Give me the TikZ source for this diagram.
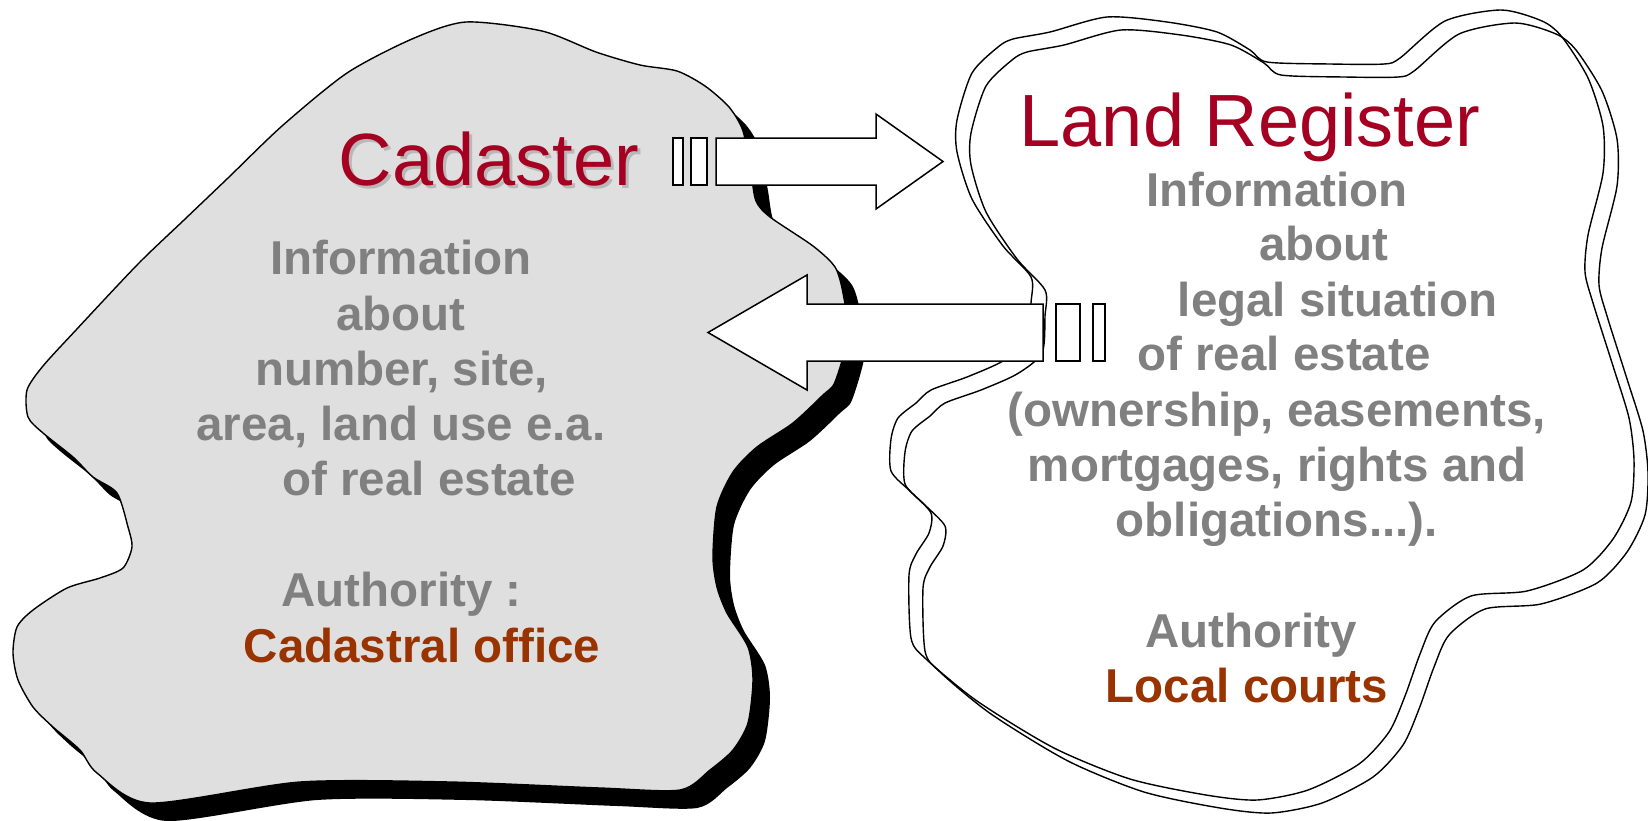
\documentclass[tikz,border=0pt]{standalone}
\usepackage{fontspec}
\setmainfont{Liberation Sans}
\usetikzlibrary{positioning}
\definecolor{infogray}{HTML}{808080}
\definecolor{titlered}{HTML}{A50021}
\definecolor{officebrown}{HTML}{993300}
\definecolor{blobgray}{HTML}{DFDFDF}

\newcommand{\cadpath}{plot[smooth cycle, tension=0.45] coordinates {
  (466,22) (542,31) (596,52) (640,65) (677,71) (705,86) (729,107) (743,131)
  (751,173) (756,201) (770,217) (813,246) (835,267) (843,293) (848,335)
  (835,382) (823,395) (793,423) (757,447) (733,472) (717,507) (713,557)
  (717,587) (727,613) (748,647) (753,680) (748,723) (733,750) (710,770)
  (680,790) (600,788) (450,782) (300,782) (150,803) (97,773) (80,750)
  (53,727) (33,707) (18,680) (13,653) (17,627) (33,610) (67,588) (100,578)
  (123,568) (132,547) (128,527) (117,493) (93,477) (73,457) (43,433)
  (28,417) (27,390) (43,366) (76,330) (138,264) (184,220) (228,178)
  (282,126) (347,73) (412,39)}}
\newcommand{\regpath}{plot[smooth cycle, tension=0.45] coordinates {
  (1013,39) (1050,32) (1107,17) (1167,22) (1217,32) (1250,50) (1267,62)
  (1330,64) (1384,64) (1400,58) (1445,21) (1501,10) (1542,21) (1562,37)
  (1588,78) (1603,126) (1603,173) (1588,235) (1585,272) (1593,303)
  (1613,366) (1629,418) (1634,460) (1631,502) (1613,539) (1583,570)
  (1527,591) (1471,596) (1435,622) (1420,654) (1405,696) (1389,732)
  (1359,764) (1308,790) (1257,800) (1206,795) (1130,779) (1054,748)
  (977,701) (926,659) (911,638) (909,575) (916,554) (929,533) (931,513)
  (911,492) (891,471) (891,439) (898,418) (916,403) (931,390) (967,377)
  (1003,361) (1028,340) (1031,303) (1031,277) (1003,246) (972,199)
  (957,152) (957,120) (972,73) (998,47)}}

\begin{document}
\begin{tikzpicture}[x=1pt,y=-1pt,
mytitle/.style={inner sep=0pt,
  anchor=base,
  text=titlered,
  font=\fontsize{74}{80}\selectfont
},
myinfo/.style={inner sep=0pt,
  anchor=base,
  text=infogray,
  font=\fontsize{47.5}{55}\selectfont\bfseries
},
myoffice/.style={myinfo, text=officebrown},
myblob/.style={line width=1.4pt},
myarrow/.style={draw=black, fill=white, line width=1.5pt, line join=miter},
>=latex
]
\useasboundingbox (0,0) rectangle (1648,820);

% cadaster blob with its shadow
\fill[black, shift={(17,18)}] \cadpath;
\draw[myblob, fill=blobgray] \cadpath;

% land register blob, double outline
\draw[myblob] \regpath;
\draw[myblob, shift={(14,13)}] \regpath;

% titles
\node[mytitle, text=black!28] (cadshadow) at (492,188.5) {Cadaster};
\node[mytitle] (cad) at (489,185.5) {Cadaster};
\node[mytitle] (reg) at (1250,146) {Land Register};

% cadaster text
\foreach \x/\y/\t [count=\i] in {401/274.3/Information, 401/330/about,
    {401.5/385/number, site,}, {401/440/area, land use e.a.},
    429/495.3/of real estate, 401.7/606.7/Authority :}
  \node[myinfo] (cadinfo\i) at (\x,\y) {\t};
\node[myoffice] (cadoffice) at (422,662) {Cadastral office};

% land register text
\foreach \x/\y/\t [count=\i] in {1277/206.4/Information, 1324/260/about,
    1337.5/316/legal situation, 1284/370.7/of real estate,
    {1276.6/426/(ownership, easements,}, {1277.3/481.4/mortgages, rights and},
    1276.8/536.8/obligations{.}{.}{.})., 1251/647.5/Authority}
  \node[myinfo] (reginfo\i) at (\x,\y) {\t};
\node[myoffice] (regoffice) at (1247,702.9) {Local courts};

% block arrows
\draw[myarrow] (673,138) rectangle (683,185);
\draw[myarrow] (691,138) rectangle (707,185);
\draw[myarrow] (716,138) -- (876,138) -- (876,114) -- (943,161.5)
  -- (876,209) -- (876,185) -- (716,185) -- cycle;

\draw[myarrow] (1056,304) rectangle (1080,361);
\draw[myarrow] (1093,304) rectangle (1105,361);
\draw[myarrow] (1043,304) -- (807,304) -- (807,275) -- (708,332.5)
  -- (807,390) -- (807,361) -- (1043,361) -- cycle;
\end{tikzpicture}
\end{document}
